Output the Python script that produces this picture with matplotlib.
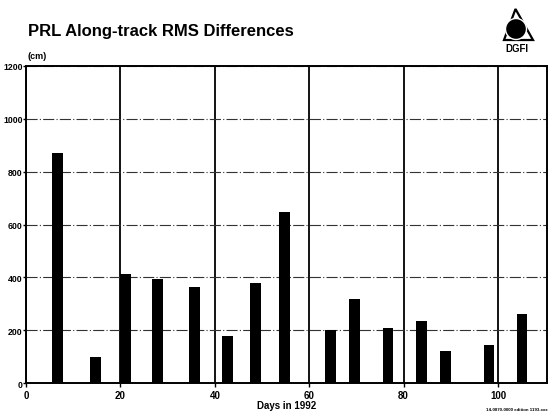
import matplotlib
matplotlib.use("Agg")
import matplotlib.pyplot as plt
from matplotlib.patches import Circle, Polygon

days = [6.7, 14.7, 21.0, 27.9, 35.7, 42.7, 48.6, 54.8, 64.5, 69.6, 76.7, 83.8, 88.9, 98.1, 105.1]
rms_cm = [870, 100, 412, 393, 363, 178, 378, 646, 202, 319, 209, 237, 124, 145, 262]
xticks = [0, 20, 40, 60, 80, 100]
yticks = [0, 200, 400, 600, 800, 1000, 1200]

plt.rcParams['font.family'] = ['Liberation Sans', 'DejaVu Sans']

fig = plt.figure(figsize=(5.56, 4.14), dpi=100)
ax = fig.add_axes([0.047, 0.0713, 0.936, 0.768])

ax.bar(days, rms_cm, width=2.3, color='black', zorder=3)
ax.set_xlim(0, 110.3)
ax.set_ylim(0, 1200)
ax.set_xticks(xticks)
ax.set_yticks(yticks)
ax.set_xticklabels([str(t) for t in xticks], fontsize=7, fontweight='bold')
ax.set_yticklabels([str(t) for t in yticks], fontsize=6.3, fontweight='bold')
ax.tick_params(axis='y', length=2, width=1, pad=0.5, direction='out')
ax.tick_params(axis='x', length=3, width=1, pad=1.5, direction='out')
ax.xaxis.grid(True, color='black', linewidth=1.3, linestyle='-', zorder=1)
ax.yaxis.grid(True, color='#333333', linewidth=0.8, linestyle=(0, (10, 2, 1, 2)), zorder=1)
for s in ax.spines.values():
    s.set_linewidth(1.4)

ax.set_xlabel('Days in 1992', fontsize=7, fontweight='bold', labelpad=0)
fig.text(0.049, 0.852, '(cm)', fontsize=6.5, fontweight='bold', ha='left', va='bottom')
fig.text(0.050, 0.925, 'PRL Along-track RMS Differences', fontsize=12, fontweight='bold',
         ha='left', va='center')
fig.text(0.985, 0.005, '14-0870-0000 edition 1193.xxx', fontsize=3.2, fontweight='bold',
         ha='right', va='bottom')

# DGFI logo (pixel-like local coordinates)
lax = fig.add_axes([500 / 556, 1 - 45 / 414, 35 / 556, 40 / 414])
lax.set_xlim(0, 35)
lax.set_ylim(40, 0)
lax.axis('off')
lax.add_patch(Polygon([[15.5, 5], [4, 36], [33, 36]], closed=True, fill=False,
                      edgecolor='black', linewidth=1.6, joinstyle='miter'))
lax.add_patch(Circle((16, 25), 10.5, facecolor='black', edgecolor='white', linewidth=1.0))
fig.text(517 / 556, 1 - 48.5 / 414, 'DGFI', fontsize=7, fontweight='bold', ha='center', va='center')

fig.savefig('out.png', dpi=100)
